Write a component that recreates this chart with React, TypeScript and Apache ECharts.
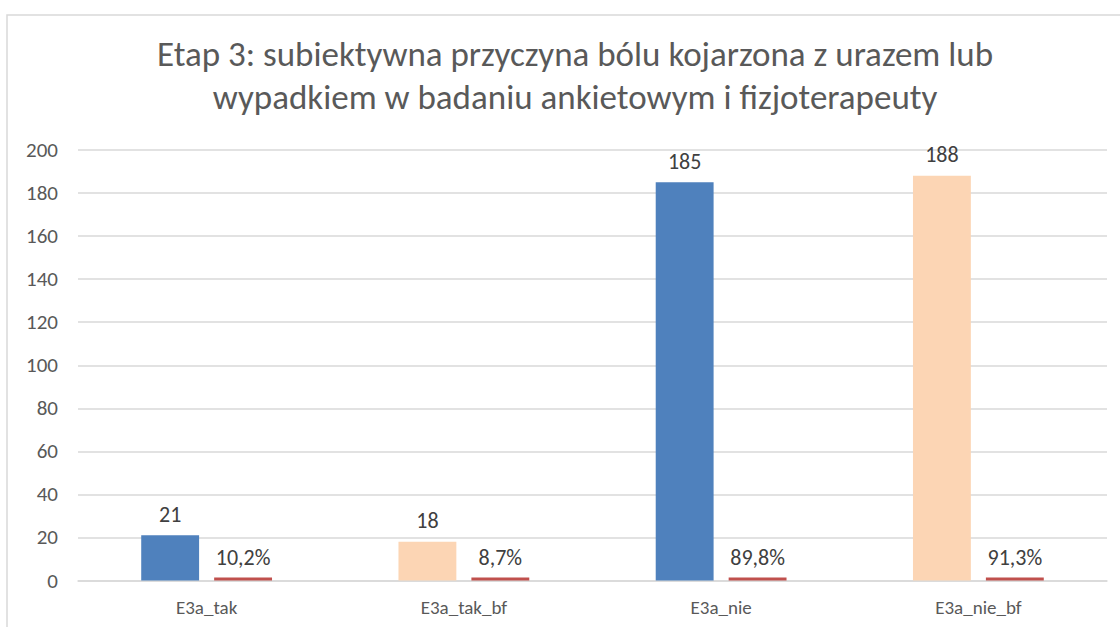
import React, { useEffect, useRef } from "react";
import * as echarts from "echarts";

const categories = ["E3a_tak", "E3a_tak_bf", "E3a_nie", "E3a_nie_bf"];
const counts = [21, 18, 185, 188];
const shares = [0.102, 0.087, 0.898, 0.913];
const countColors = ["#4F81BD", "#FCD5B4", "#4F81BD", "#FCD5B4"];
const shareColor = "#C0504D";
const yTicks = { min: 0, max: 200, interval: 20 };
const titleText =
  "Etap 3: subiektywna przyczyna bólu kojarzona z urazem lub\nwypadkiem w badaniu ankietowym i fizjoterapeuty";

const FONT = "Carlito, Lato, sans-serif";

export default function App() {
  const ref = useRef<HTMLDivElement>(null);
  useEffect(() => {
    if (!ref.current) return;
    const chart = echarts.init(ref.current, undefined, { renderer: "svg" });
    chart.setOption({
      animation: false,
      backgroundColor: "#ffffff",
      textStyle: { fontFamily: FONT },
      title: {
        text: titleText,
        left: 570,
        top: 27,
        textAlign: "center",
        textStyle: {
          fontFamily: FONT,
          fontSize: 35,
          fontWeight: "normal",
          color: "#595959",
          lineHeight: 43,
        },
      },
      graphic: [
        {
          type: "rect",
          shape: { x: 7, y: 15, width: 1300, height: 800 },
          style: { fill: "none", stroke: "#d9d9d9", lineWidth: 1.5 },
          silent: true,
          z: -1,
        },
      ],
      grid: { left: 78, right: 13, top: 150, bottom: 46.5, containLabel: false },
      xAxis: {
        type: "category",
        data: categories,
        axisTick: { show: false },
        axisLine: { show: true, lineStyle: { color: "#d9d9d9", width: 1.5 } },
        axisLabel: { fontFamily: FONT, fontSize: 19, color: "#595959", margin: 17 },
      },
      yAxis: {
        type: "value",
        min: yTicks.min,
        max: yTicks.max,
        interval: yTicks.interval,
        axisLine: { show: false },
        axisTick: { show: false },
        axisLabel: { fontFamily: FONT, fontSize: 21, color: "#595959", margin: 20 },
        splitLine: { lineStyle: { color: "#d9d9d9", width: 1.5 } },
      },
      series: [
        {
          type: "bar",
          name: "Liczba",
          barWidth: "22.5%",
          barGap: "26%",
          data: counts.map((v, i) => ({ value: v, itemStyle: { color: countColors[i] } })),
          label: {
            show: true,
            position: "top",
            distance: 10,
            fontFamily: FONT,
            fontSize: 22,
            color: "#404040",
          },
        },
        {
          type: "bar",
          name: "Procent",
          barWidth: "22.5%",
          barMinHeight: 3,
          itemStyle: { color: shareColor },
          data: shares,
          label: {
            show: true,
            position: "top",
            distance: 9,
            fontFamily: FONT,
            fontSize: 22,
            color: "#404040",
            formatter: (p: any) => (p.value * 100).toFixed(1).replace(".", ",") + "%",
          },
        },
      ],
    });
    return () => chart.dispose();
  }, []);
  return (
    <div
      ref={ref}
      style={{ position: "fixed", left: 0, top: 0, width: 1120, height: 627 }}
    />
  );
}
